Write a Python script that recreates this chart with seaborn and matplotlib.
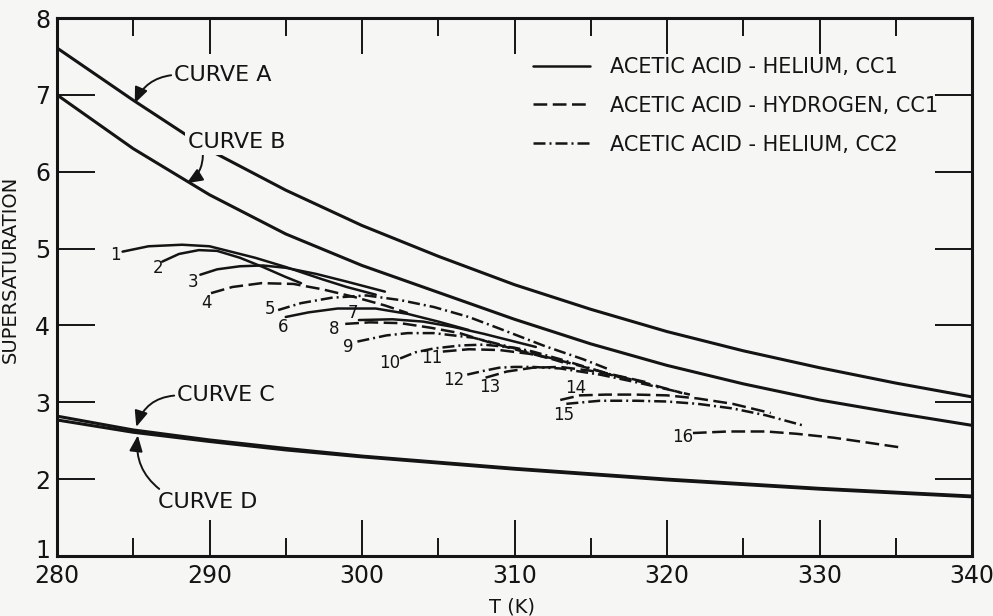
import seaborn as sns
import matplotlib.pyplot as plt
from matplotlib.lines import Line2D
from matplotlib.ticker import MultipleLocator, FuncFormatter

# envelope curves A-D
temp_env = [280, 285, 290, 295, 300, 305, 310, 315, 320, 325, 330, 335, 340]
curve_a = [7.61, 6.93, 6.28, 5.76, 5.30, 4.90, 4.53, 4.21, 3.92, 3.67, 3.45, 3.25, 3.07]
curve_b = [7.00, 6.30, 5.70, 5.19, 4.78, 4.43, 4.08, 3.76, 3.48, 3.24, 3.03, 2.86, 2.70]
curve_c = [2.82, 2.64, 2.51, 2.40, 2.30, 2.22, 2.14, 2.07, 2.00, 1.94, 1.88, 1.83, 1.78]
curve_d = [2.77, 2.61, 2.49, 2.38, 2.29, 2.21, 2.13, 2.06, 1.99, 1.93, 1.87, 1.82, 1.77]

# numbered runs (T in K, supersaturation)
run1_t = [284.3, 286, 288.2, 290, 293, 295, 297.4, 299, 300.9]
run1_s = [4.96, 5.03, 5.05, 5.03, 4.88, 4.76, 4.60, 4.50, 4.40]
run2_t = [286.9, 288, 289.3, 290.5, 292, 293.5, 295, 296.0]
run2_s = [4.83, 4.93, 4.98, 4.97, 4.88, 4.76, 4.63, 4.55]
run3_t = [289.4, 290.5, 292, 293.5, 295, 297, 299, 301.5]
run3_s = [4.66, 4.73, 4.77, 4.78, 4.75, 4.67, 4.57, 4.44]
run4_t = [290.1, 291.5, 293.4, 295.5, 297.4, 299.5, 301.5, 303.0]
run4_s = [4.42, 4.50, 4.55, 4.54, 4.47, 4.37, 4.26, 4.16]
run5_t = [294.5, 296, 298, 300.3, 302.5, 304.7, 307, 309, 312, 314.5, 316.3]
run5_s = [4.20, 4.29, 4.36, 4.39, 4.33, 4.24, 4.11, 3.96, 3.73, 3.56, 3.42]
run6_t = [295.0, 296.5, 298.4, 300.9, 303, 305, 307]
run6_s = [4.11, 4.17, 4.22, 4.22, 4.15, 4.05, 3.94]
run7_t = [299.8, 302, 304, 306, 308, 310, 311.4]
run7_s = [4.07, 4.08, 4.05, 3.98, 3.89, 3.79, 3.72]
run8_t = [298.9, 300.5, 302.5, 304.5, 306.4, 308.2, 310, 312.1]
run8_s = [4.02, 4.04, 4.03, 3.97, 3.90, 3.79, 3.69, 3.58]
run9_t = [299.7, 301.6, 303, 304.7, 307.3, 309.5, 311.5, 313.5]
run9_s = [3.79, 3.87, 3.90, 3.90, 3.84, 3.73, 3.62, 3.50]
run10_t = [302.5, 303.5, 304.7, 306.5, 308.0, 310, 311.2, 313, 315, 317]
run10_s = [3.57, 3.65, 3.70, 3.74, 3.75, 3.71, 3.66, 3.56, 3.44, 3.32]
run11_t = [305.3, 307, 309.0, 311, 312.3, 314, 316, 318.9]
run11_s = [3.66, 3.69, 3.68, 3.63, 3.58, 3.49, 3.38, 3.25]
run12_t = [306.9, 308, 309.0, 310, 311.2, 313, 315.6, 318, 320, 321.5]
run12_s = [3.36, 3.41, 3.45, 3.46, 3.46, 3.44, 3.36, 3.26, 3.17, 3.10]
run13_t = [308.1, 309.5, 311.2, 313, 315, 317, 319, 321.0]
run13_s = [3.32, 3.40, 3.45, 3.46, 3.41, 3.33, 3.23, 3.12]
run14_t = [313.0, 314.3, 316, 318, 320, 322, 324.3, 326.8]
run14_s = [3.03, 3.09, 3.10, 3.10, 3.09, 3.05, 2.98, 2.86]
run15_t = [313.4, 315.6, 318, 320, 322, 324.3, 326.5, 328.9]
run15_s = [2.98, 3.02, 3.02, 3.01, 2.98, 2.92, 2.83, 2.70]
run16_t = [321.7, 324, 326.5, 328.5, 330.9, 333, 335.4]
run16_s = [2.60, 2.62, 2.62, 2.59, 2.54, 2.48, 2.41]

# system of each run: 0 = helium CC1, 1 = hydrogen CC1, 2 = helium CC2
run_system = [0, 0, 0, 1, 2, 0, 0, 1, 2, 2, 1, 2, 1, 1, 2, 1]
run_label_t = [283.8, 286.6, 288.9, 289.8, 294.0, 294.8, 299.4, 298.2,
               299.1, 301.8, 304.6, 306.0, 308.4, 314.0, 313.2, 321.0]
run_label_s = [4.92, 4.75, 4.57, 4.29, 4.21, 3.98, 4.16, 3.95,
               3.72, 3.51, 3.58, 3.29, 3.20, 3.19, 2.83, 2.55]

system_names = ['ACETIC ACID - HELIUM, CC1',
                'ACETIC ACID - HYDROGEN, CC1',
                'ACETIC ACID - HELIUM, CC2']

runs = [(run1_t, run1_s), (run2_t, run2_s), (run3_t, run3_s), (run4_t, run4_s),
        (run5_t, run5_s), (run6_t, run6_s), (run7_t, run7_s), (run8_t, run8_s),
        (run9_t, run9_s), (run10_t, run10_s), (run11_t, run11_s), (run12_t, run12_s),
        (run13_t, run13_s), (run14_t, run14_s), (run15_t, run15_s), (run16_t, run16_s)]

ink = '#141414'
paper = '#f6f6f4'
styles = ['-', (0, (5.5, 2.2)), (0, (4.8, 1.6, 0.8, 1.6))]

sns.set_style('ticks')
plt.rcParams['font.family'] = ['DejaVu Sans']

fig = plt.figure(figsize=(9.93, 6.16), dpi=100, facecolor=paper)
ax = fig.add_axes([57 / 993, 60 / 616, 915 / 993, 538 / 616])
ax.set_facecolor(paper)

for ys in (curve_a, curve_b, curve_c, curve_d):
    sns.lineplot(x=temp_env, y=ys, ax=ax, color=ink, lw=2.2, estimator=None, sort=False)

for (t, s), sysid in zip(runs, run_system):
    sns.lineplot(x=t, y=s, ax=ax, color=ink, lw=1.8, linestyle=styles[sysid],
                 estimator=None, sort=False)

for i, (lt, ls) in enumerate(zip(run_label_t, run_label_s)):
    ax.text(lt, ls, str(i + 1), fontsize=12, ha='center', va='center', color=ink)

arrow = dict(arrowstyle='-|>,head_length=0.6,head_width=0.25', color=ink, lw=1.4,
             shrinkA=0, shrinkB=0)
bg = dict(boxstyle='square,pad=0.15', fc=paper, ec='none')
ax.annotate('CURVE A', xy=(285.1, 6.89), xytext=(287.7, 7.26), fontsize=16, color=ink,
            ha='left', va='center',
            arrowprops=dict(arrow, relpos=(0, 0.5), connectionstyle='arc3,rad=0.3'))
ax.annotate('CURVE B', xy=(288.5, 5.85), xytext=(288.6, 6.39), fontsize=16, color=ink,
            ha='left', va='center', bbox=bg, zorder=5,
            arrowprops=dict(arrow, relpos=(0.15, 0), connectionstyle='arc3,rad=-0.3'))
ax.annotate('CURVE C', xy=(285.2, 2.68), xytext=(287.9, 3.09), fontsize=16, color=ink,
            ha='left', va='center',
            arrowprops=dict(arrow, relpos=(0, 0.5), connectionstyle='arc3,rad=0.35'))
ax.annotate('CURVE D', xy=(285.3, 2.57), xytext=(286.6, 1.70), fontsize=16, color=ink,
            ha='left', va='center',
            arrowprops=dict(arrow, relpos=(0.06, 1), connectionstyle='arc3,rad=-0.3'))

handles = [Line2D([], [], color=ink, lw=1.8, linestyle=st) for st in styles]
ax.legend(handles, system_names, loc='upper left', bbox_to_anchor=(0.52, 0.9275),
          frameon=False, fontsize=15, handlelength=2.75, handletextpad=0.95,
          labelspacing=0.9, borderpad=0, borderaxespad=0, labelcolor=ink)

ax.set_xlim(280, 340)
ax.set_ylim(1, 8)
ax.xaxis.set_major_locator(MultipleLocator(10))
ax.xaxis.set_minor_locator(MultipleLocator(5))
ax.yaxis.set_major_locator(MultipleLocator(1))
# the corner "1" is drawn separately, a little above the spine, clear of "280"
ax.yaxis.set_major_formatter(FuncFormatter(lambda v, p: '' if v == 1 else f'{v:g}'))
ax.text(-0.0075, 1.07, '1', transform=ax.get_yaxis_transform(), fontsize=17,
        ha='right', va='center', color=ink)
ax.tick_params(axis='x', which='major', direction='in', length=26, width=1.4,
               top=True, bottom=True, labelsize=17, pad=6, color=ink, labelcolor=ink)
ax.tick_params(axis='x', which='minor', direction='in', length=13, width=1.4,
               top=True, bottom=True, color=ink)
ax.tick_params(axis='y', which='major', direction='in', length=27, width=1.4,
               left=True, right=True, labelsize=17, pad=5, color=ink, labelcolor=ink)
for sp in ax.spines.values():
    sp.set_linewidth(2.2)
    sp.set_color(ink)

ax.set_xlabel('T (K)', fontsize=14, color=ink)
ax.set_ylabel('SUPERSATURATION', fontsize=14, color=ink)
ax.xaxis.set_label_coords(0.497, -0.078)
ax.yaxis.set_label_coords(-0.041, 0.532)

fig.savefig('out.png', dpi=100, facecolor=paper)
